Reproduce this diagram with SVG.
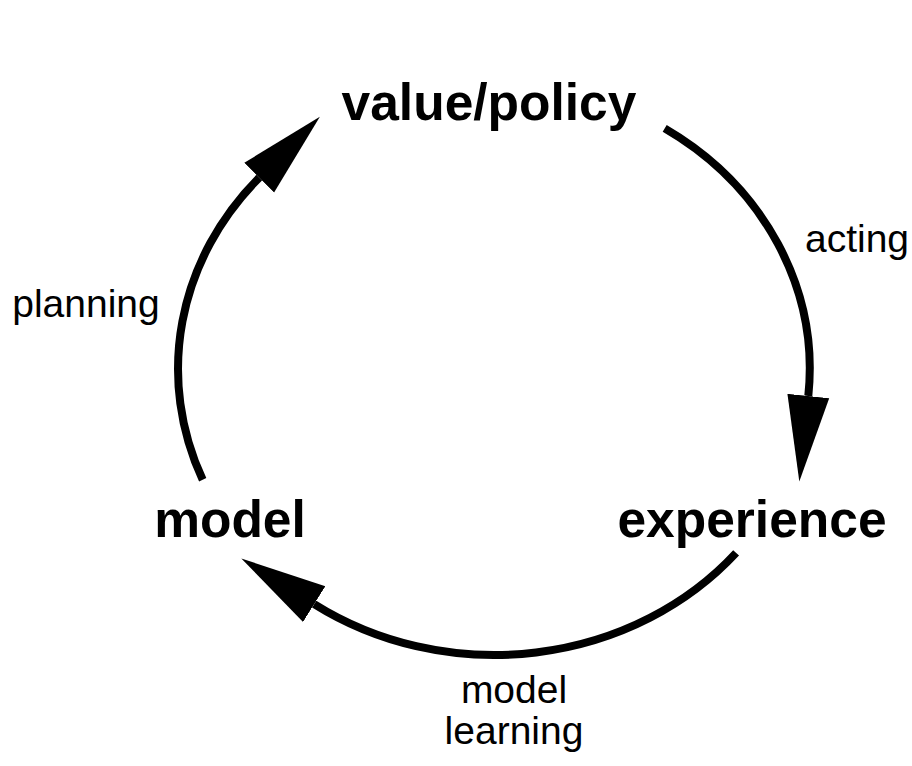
<svg xmlns="http://www.w3.org/2000/svg" width="912" height="766" viewBox="0 0 912 766">
  <style>
    .node { font-family: "Liberation Sans", Arial, Helvetica, sans-serif; font-weight: bold; font-size: 51.5px; fill: #000; }
    .lbl { font-family: "Liberation Sans", Arial, Helvetica, sans-serif; font-size: 39px; fill: #000; }
    .arc { fill: none; stroke: #000; stroke-width: 8; marker-end: url(#head); }
  </style>
  <defs>
    <marker id="head" markerUnits="userSpaceOnUse" markerWidth="90" markerHeight="46" viewBox="0 -23 90 46" refX="0" refY="0" orient="auto">
      <path d="M0,-21 L86,0 L0,21 Z" fill="#000"/>
    </marker>
  </defs>
  <rect width="912" height="766" fill="#fff"/>
  <g id="connectors">
    <path id="acting-arc" class="arc" d="M664.7,128.4 A316,286 0 0 1 808.3,396"/>
    <path id="learning-arc" class="arc" d="M736.1,552.9 A316,286 0 0 1 314.2,604.1"/>
    <path id="planning-arc" class="arc" d="M202.7,479.8 A316,286 0 0 1 259.2,177.6"/>
  </g>
  <g id="value-policy"><text class="node" x="489" y="120" text-anchor="middle">value/policy</text></g>
  <g id="experience"><text class="node" x="752" y="537" text-anchor="middle">experience</text></g>
  <g id="model"><text class="node" x="230" y="537" text-anchor="middle">model</text></g>
  <g id="labels">
    <text class="lbl" x="857" y="252" text-anchor="middle">acting</text>
    <text class="lbl" x="86" y="317" text-anchor="middle">planning</text>
    <text class="lbl" x="514" y="703" text-anchor="middle">model</text>
    <text class="lbl" x="514" y="744" text-anchor="middle">learning</text>
  </g>
</svg>
